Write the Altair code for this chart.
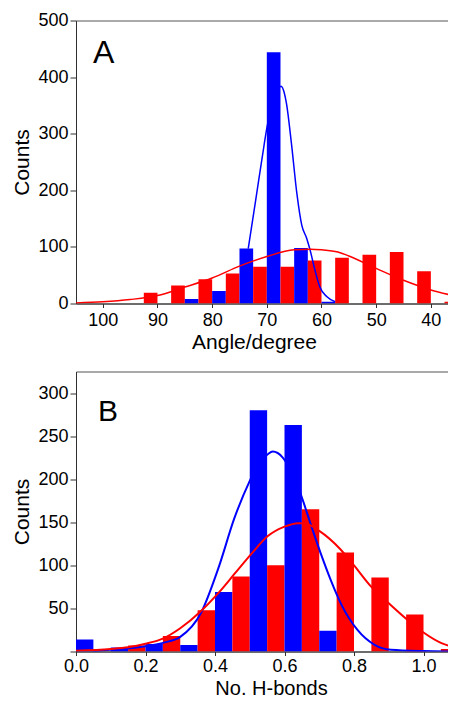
import altair as alt
import pandas as pd

# ---------------- Panel A: angle histogram ----------------
a_bin = [90, 85, 80, 75, 70, 65, 60, 55, 50, 45, 40, 35]
a_red = [19, 32, 43, 53, 65, 65, 76, 81, 86, 91, 57, 3]
a_blue = [0, 8, 22, 97, 444, 98, 3, 0, 0, 0, 0, 0]
a_half = 2.5

a_red_fit_x = [105, 100, 95, 90, 85, 80, 75, 70, 65, 62, 60, 57, 55, 50, 45, 40, 35]
a_red_fit_y = [1, 3, 7, 14, 29, 45, 66, 83, 95, 96, 95, 91, 84, 62, 41, 24, 12]
a_blue_fit_x = [73.4, 72, 70.5, 70, 68.7, 67.4, 66.8, 66.4, 65.5, 64.5, 63.6, 62.7, 62.1, 61.2, 60.3, 59, 57.5]
a_blue_fit_y = [97, 185, 280, 310, 362, 384, 372, 353, 283, 194, 138, 115, 95, 59, 29, 12, 3]

# ---------------- Panel B: H-bond histogram ----------------
b_bin = [0.0, 0.1, 0.2, 0.3, 0.4, 0.5, 0.6, 0.7, 0.8, 0.9, 1.0]
b_blue = [14, 4.6, 8.8, 7.6, 69, 280, 263, 24, 0, 0, 0]
b_red = [0, 6.9, 18, 48, 87, 100, 165, 115, 86, 43, 3]
b_half = 0.05

b_blue_fit_x = [0.05, 0.1, 0.2, 0.25, 0.3, 0.36, 0.41, 0.456, 0.5, 0.525, 0.552, 0.566, 0.595,
                0.62, 0.647, 0.676, 0.705, 0.734, 0.763, 0.81, 0.858, 0.906, 1.0, 1.1]
b_blue_fit_y = [0.5, 2, 6, 10, 17, 45, 97, 155, 198, 218, 229, 232, 225,
                208, 182, 147, 113, 82, 55, 25, 8, 2, 0.5, 0]
b_red_fit_x = [0.0, 0.1, 0.15, 0.2, 0.25, 0.3, 0.36, 0.41, 0.456, 0.504, 0.552, 0.6, 0.64,
               0.66, 0.7, 0.76, 0.8, 0.85, 0.9, 0.95, 1.0, 1.05, 1.1]
b_red_fit_y = [1, 3, 5, 9, 15, 27, 47, 68, 90, 113, 134, 145, 149,
               148.5, 140, 119, 100, 75, 56, 38, 22, 10, 4]

FONT = "Liberation Sans"
AXIS_COL = "#303030"
color_scale = alt.Scale(domain=["red", "blue"], range=["#ff0000", "#0000ff"])


def bars_df(bins, red, blue, half, red_first_high):
    rows = []
    for c, r, b in zip(bins, red, blue):
        if red_first_high:
            rows.append({"s": "red", "x": c + half, "x2": c, "v": r})
            rows.append({"s": "blue", "x": c, "x2": c - half, "v": b})
        else:
            rows.append({"s": "blue", "x": c, "x2": c + half, "v": b})
            rows.append({"s": "red", "x": c + half, "x2": c + 2 * half, "v": r})
    return pd.DataFrame(rows)


def fit_df(xr, yr, xb, yb):
    d1 = pd.DataFrame({"x": xr, "v": yr, "s": "red"})
    d2 = pd.DataFrame({"x": xb, "v": yb, "s": "blue"})
    return pd.concat([d2, d1], ignore_index=True)


def panel(bdf, fdf, xscale, xaxis, yscale, yaxis, letter, lx, ly, lsize, lw, h):
    bars = alt.Chart(bdf).mark_rect(clip=True).encode(
        x=alt.X("x:Q", scale=xscale, axis=xaxis),
        x2="x2:Q",
        y=alt.Y("v:Q", scale=yscale, axis=yaxis),
        y2=alt.datum(0),
        color=alt.Color("s:N", scale=color_scale, legend=None),
    )
    lines = alt.Chart(fdf).mark_line(clip=True, interpolate="monotone", strokeWidth=lw).encode(
        x="x:Q",
        y="v:Q",
        color=alt.Color("s:N", scale=color_scale, legend=None),
        detail="s:N",
    )
    label = alt.Chart(pd.DataFrame({"t": [letter]})).mark_text(
        align="left", baseline="alphabetic", fontSize=lsize, font=FONT, color="black"
    ).encode(text="t:N", x=alt.value(lx), y=alt.value(ly))
    return alt.layer(bars, lines, label).properties(width=380, height=h)


common_axis = dict(
    labelFont=FONT, titleFont=FONT, labelFontSize=18,
    titleFontWeight="normal", labelColor="black", titleColor="black",
    domainColor=AXIS_COL, tickColor=AXIS_COL, labelOverlap=False, labelFlush=False,
    grid=False,
)

# Panel A axes
a_xaxis = alt.Axis(
    title="Angle/degree", values=list(range(40, 101, 5)),
    labelExpr="datum.value % 10 === 0 ? datum.label : ''",
    tickSize=4, labelPadding=4, titlePadding=2, titleX=178, titleFontSize=21, **common_axis,
)
a_yaxis = alt.Axis(
    title="Counts", values=list(range(0, 501, 50)),
    labelExpr="datum.value % 100 === 0 ? datum.label : ''",
    tickSize={"condition": {"test": "datum.value % 100 === 0", "value": 6}, "value": 3},
    labelPadding=2, titlePadding=5, titleFontSize=21, **common_axis,
)
a_x = alt.Scale(domain=[35.4, 104.9], reverse=True, nice=False, zero=False)
a_y = alt.Scale(domain=[0, 500], nice=False)

# Panel B axes
b_xaxis = alt.Axis(
    title="No. H-bonds", values=[0.0, 0.1, 0.2, 0.3, 0.4, 0.5, 0.6, 0.7, 0.8, 0.9, 1.0],
    format=".1f",
    labelExpr="round(datum.value * 10) % 2 === 0 ? datum.label : ''",
    tickSize=4, labelPadding=2, titlePadding=3, titleX=195, titleFontSize=20, **common_axis,
)
b_yaxis = alt.Axis(
    title="Counts", values=list(range(0, 326, 25)),
    labelExpr="(datum.value % 50 === 0 && datum.value > 0) ? datum.label : ''",
    tickSize={"condition": {"test": "datum.value % 50 === 0", "value": 6}, "value": 3},
    labelPadding=2, titlePadding=5, titleFontSize=21, **common_axis,
)
b_x = alt.Scale(domain=[0, 1.0935], nice=False, zero=False)
b_y = alt.Scale(domain=[0, 325], nice=False)

chart_a = panel(
    bars_df(a_bin, a_red, a_blue, a_half, True),
    fit_df(a_red_fit_x, a_red_fit_y, a_blue_fit_x, a_blue_fit_y),
    a_x, a_xaxis, a_y, a_yaxis, "A", 17, 42, 32, 1.5, 283,
)
chart_b = panel(
    bars_df(b_bin, b_red, b_blue, b_half, False),
    fit_df(b_red_fit_x, b_red_fit_y, b_blue_fit_x, b_blue_fit_y),
    b_x, b_xaxis, b_y, b_yaxis, "B", 22, 49, 30, 2, 280,
)

chart = alt.vconcat(chart_a, chart_b, spacing=17).properties(
    padding={"left": 3, "top": 2.5, "right": -9, "bottom": -2},
    background="white",
).configure_view(stroke="#555555", strokeWidth=1)

chart.save("out.html", embed_options={"renderer": "svg", "actions": False})
